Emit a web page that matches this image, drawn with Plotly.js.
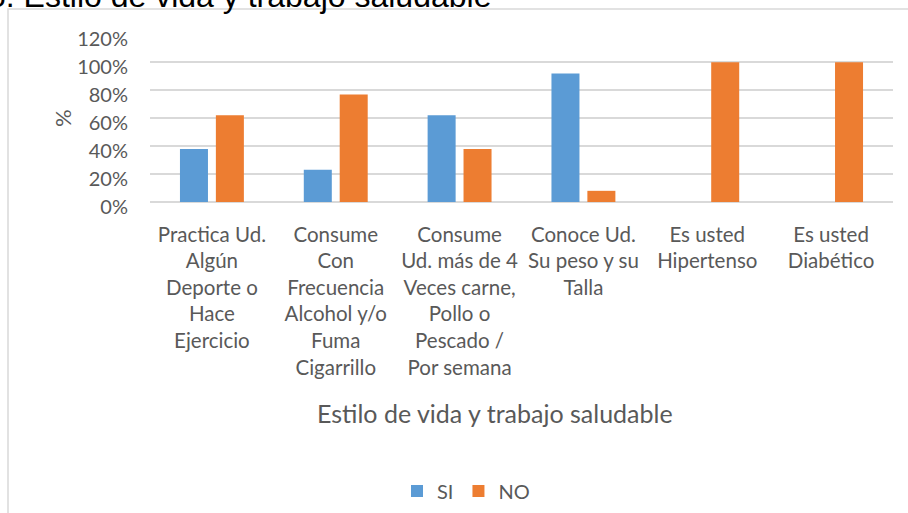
<!DOCTYPE html>
<html>
<head>
<meta charset="utf-8">
<script src="https://cdn.plot.ly/plotly-3.0.1.min.js"></script>
<style>html,body{margin:0;padding:0;background:#fff;}#chart{width:908px;height:513px;}</style>
</head>
<body>
<div id="chart"></div>
<script>
const categories = [
  "Practica Ud.<br>Algún<br>Deporte o<br>Hace<br>Ejercicio",
  "Consume<br>Con<br>Frecuencia<br>Alcohol y/o<br>Fuma<br>Cigarrillo",
  "Consume<br>Ud. más de 4<br>Veces carne,<br>Pollo o<br>Pescado /<br>Por semana",
  "Conoce Ud.<br>Su peso y su<br>Talla",
  "Es usted<br>Hipertenso",
  "Es usted<br>Diabético"
];
const siValues = [38, 23, 62, 92, 0, 0];
const noValues = [62, 77, 38, 8, 100, 100];
const yTicks = [0, 20, 40, 60, 80, 100, 120];
const yTickLabels = ["0%", "20%", "40%", "60%", "80%", "100%", "120%"];
const chartTitle = "6. Estilo de vida y trabajo saludable";
const xTitle = "Estilo de vida y trabajo saludable";
const yTitle = "%";

const FONT = "Lato, 'Open Sans', sans-serif";
const TXT = "#595959";

// plot area in px: x 150..893, y 34..209 (value 0 sits at y=202)
const L = 150, R = 893, T = 34, B = 209;
const px2x = p => (p - L) / (R - L);
const px2y = p => (B - p) / (B - T);

const traces = [
  {type: "bar", name: "SI", x: categories, y: siValues, marker: {color: "#5B9BD5"}, hoverinfo: "y"},
  {type: "bar", name: "NO", x: categories, y: noValues, marker: {color: "#ED7D31"}, hoverinfo: "y"},
  // invisible carrier so the label axis (y2) is drawn
  {type: "scatter", mode: "none", x: categories, y: categories.map(() => null), yaxis: "y2",
   showlegend: false, hoverinfo: "skip"}
];

const layout = {
  width: 908, height: 513,
  margin: {l: L, r: 908 - R, t: T, b: 513 - B, pad: 0},
  paper_bgcolor: "#fff", plot_bgcolor: "#fff",
  barmode: "group", bargap: 0.42, bargroupgap: 0.22,
  font: {family: FONT, color: TXT, size: 20},
  showlegend: true,
  legend: {orientation: "h", xref: "container", yref: "container",
           x: 466 / 908, xanchor: "center", y: 1 - 491 / 513, yanchor: "middle",
           bgcolor: "rgba(0,0,0,0)", borderwidth: 0,
           font: {family: FONT, size: 20, color: TXT}, itemwidth: 30, traceorder: "normal"},
  xaxis: {
    type: "category", showgrid: false, showline: false, ticks: "", zeroline: false,
    tickfont: {family: FONT, size: 20.5, color: TXT}, ticklabelstandoff: 11, automargin: false
  },
  yaxis: {
    range: [-5, 120.2], tickvals: yTicks, showticklabels: false,
    showgrid: true, gridcolor: "#D9D9D9", gridwidth: 1.5,
    zeroline: true, zerolinecolor: "#D9D9D9", zerolinewidth: 1.5,
    showline: false, ticks: "", automargin: false, fixedrange: true
  },
  yaxis2: {
    overlaying: "y", side: "left", range: [-1.5, 123.7],
    tickvals: yTicks, ticktext: yTickLabels,
    showgrid: false, zeroline: false, showline: false, ticks: "", ticklabelstandoff: 21,
    tickfont: {family: FONT, size: 20, color: TXT}, automargin: false, fixedrange: true
  },
  shapes: [
    {type: "rect", xref: "paper", yref: "paper", x0: px2x(8), x1: px2x(960), y0: px2y(560), y1: px2y(9),
     line: {color: "#D9D9D9", width: 1.5}, fillcolor: "rgba(0,0,0,0)", layer: "below"}
  ],
  annotations: [
    {text: chartTitle, xref: "paper", yref: "paper", x: px2x(492), xanchor: "right",
     y: px2y(15), yanchor: "bottom", showarrow: false, borderpad: 0,
     font: {family: "'Liberation Sans', Arial, sans-serif", size: 32, color: "#000"}},
    {text: xTitle, xref: "paper", yref: "paper", x: px2x(495), xanchor: "center",
     y: px2y(413), yanchor: "middle", showarrow: false, borderpad: 0,
     font: {family: FONT, size: 25, color: TXT}},
    {text: yTitle, xref: "paper", yref: "paper", x: px2x(62), xanchor: "center",
     y: px2y(118), yanchor: "middle", showarrow: false, borderpad: 0, textangle: -90,
     font: {family: FONT, size: 22, color: TXT}}
  ]
};

Plotly.newPlot("chart", traces, layout, {displayModeBar: false});
</script>
</body>
</html>
